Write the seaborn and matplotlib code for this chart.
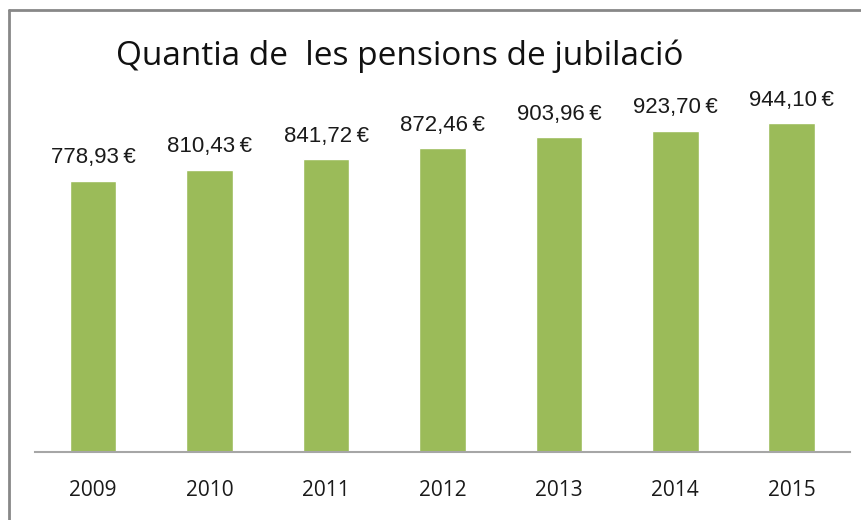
import pandas as pd
import seaborn as sns
from matplotlib import pyplot as plt
from matplotlib.lines import Line2D

years = ["2009", "2010", "2011", "2012", "2013", "2014", "2015"]
amounts = [778.93, 810.43, 841.72, 872.46, 903.96, 923.70, 944.10]
title = "Quantia de  les pensions de jubilació"
caption = "Gràfic 6"

df = pd.DataFrame({"year": years, "amount": amounts})

sns.set_style("white")
plt.rcParams["font.family"] = ["Liberation Sans", "DejaVu Sans"]

fig = plt.figure(figsize=(8.61, 5.2), dpi=100)
ax = fig.add_axes([35 / 861, 68 / 520, 815 / 861, 348 / 520])

sns.barplot(data=df, x="year", y="amount", color="#9BBB59", width=0.4,
            saturation=1, ax=ax)

# value labels, euro format with decimal comma
for i, v in enumerate(amounts):
    lbl = f"{v:.2f}".replace(".", ",") + "\u2009€"
    ax.annotate(lbl, (i, v), xytext=(0, 9), textcoords="offset points",
                ha="center", va="bottom", fontsize=16, color="#1a1a1a",
                family=["Liberation Sans", "DejaVu Sans"])

ax.set_ylim(0, 1000)
ax.set_xlim(-0.5, 6.5)
ax.set_xlabel("")
ax.set_ylabel("")
ax.set_yticks([])
ax.tick_params(axis="x", length=0, pad=20, labelsize=15)
for t in ax.get_xticklabels():
    t.set_fontfamily(["Open Sans", "DejaVu Sans"])
    t.set_color("#1a1a1a")
for s in ["top", "right", "left"]:
    ax.spines[s].set_visible(False)
ax.spines["bottom"].set_color("#a6a6a6")
ax.spines["bottom"].set_linewidth(1.5)

# chart title
fig.text(400 / 861, 1 - 56 / 520, title, ha="center", va="center",
         fontsize=24, family=["Open Sans", "DejaVu Sans"], color="#111111")

# caption above the frame, cut off by the image edge as in the source
fig.text(442 / 861, 1 + 10 / 520, caption, ha="center", va="center",
         fontsize=20, fontweight="bold", color="#1a9a1a")

# outer frame (left and top edges visible)
fig.add_artist(Line2D([8.5 / 861, 8.5 / 861], [0, 1 - 10 / 520],
                      transform=fig.transFigure, color="#888888", lw=2))
fig.add_artist(Line2D([8.5 / 861, 1], [1 - 10 / 520, 1 - 10 / 520],
                      transform=fig.transFigure, color="#888888", lw=2))

fig.savefig("out.png", dpi=100)
